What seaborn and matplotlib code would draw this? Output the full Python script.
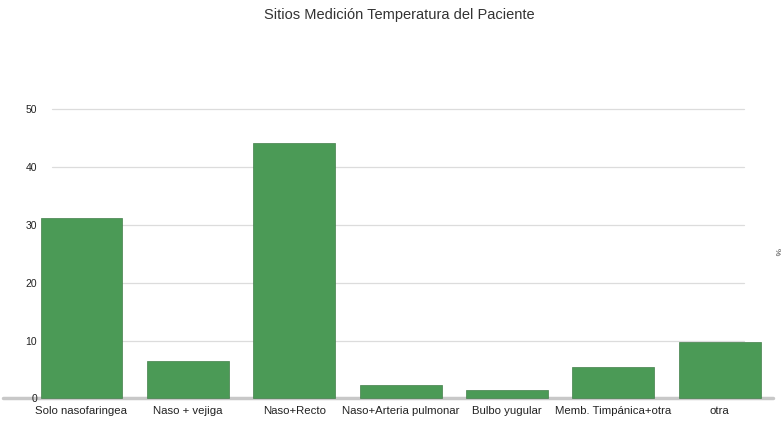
import matplotlib
matplotlib.use('Agg')
from matplotlib import pyplot as plt
import pandas as pd
import seaborn as sns

categorias = ['Solo nasofaringea', 'Naso + vejiga', 'Naso+Recto', 'Naso+Arteria pulmonar',
              'Bulbo yugular', 'Memb. Timpánica+otra', 'otra']
porcentaje = [31.1, 6.4, 44.1, 2.3, 1.4, 5.4, 9.7]
ticks_y = [0, 10, 20, 30, 40, 50]

df = pd.DataFrame({'sitio': categorias, 'pct': porcentaje})

sns.set_style('white')
plt.rcParams['font.family'] = ['Liberation Sans', 'DejaVu Sans']

fig = plt.figure(figsize=(7.82, 4.23), dpi=100)
ax = fig.add_axes([40 / 782, 20 / 423, 733 / 782, 298 / 423])

# lineas de grilla cortas, como en el original
for t in ticks_y[1:]:
    ax.axhline(t, xmin=0.016, xmax=0.96, color='#dcdcdc', lw=0.9, zorder=0)
ax.axhline(0, xmin=-0.05, xmax=1.0, color='#c8c8c8', lw=2.5, zorder=0, clip_on=False)

sns.barplot(data=df, x='sitio', y='pct', color='#4b9a56', saturation=1,
            width=0.77, edgecolor='#437f4b', linewidth=0.5, ax=ax, zorder=2)

ax.set_xlim(-0.39, 6.5)
ax.set_ylim(-0.8, 50.7)
ax.set_yticks(ticks_y)
ax.set_yticklabels([str(t) for t in ticks_y])
ax.tick_params(axis='both', length=0, colors='#222222')
ax.tick_params(axis='x', pad=2, labelsize=8.2)
ax.tick_params(axis='y', pad=2, labelsize=7.5)
for s in ax.spines.values():
    s.set_visible(False)
ax.set_xlabel('')
ax.set_ylabel('')

fig.text(0.51, 1 - 15 / 423, 'Sitios Medición Temperatura del Paciente', ha='center', va='center',
         fontsize=10.5, color='#333333')
fig.text(776 / 782, 1 - 252 / 423, '%', rotation=-90, ha='center', va='center',
         fontsize=6, color='#444444')

fig.savefig('out.png', dpi=100)
